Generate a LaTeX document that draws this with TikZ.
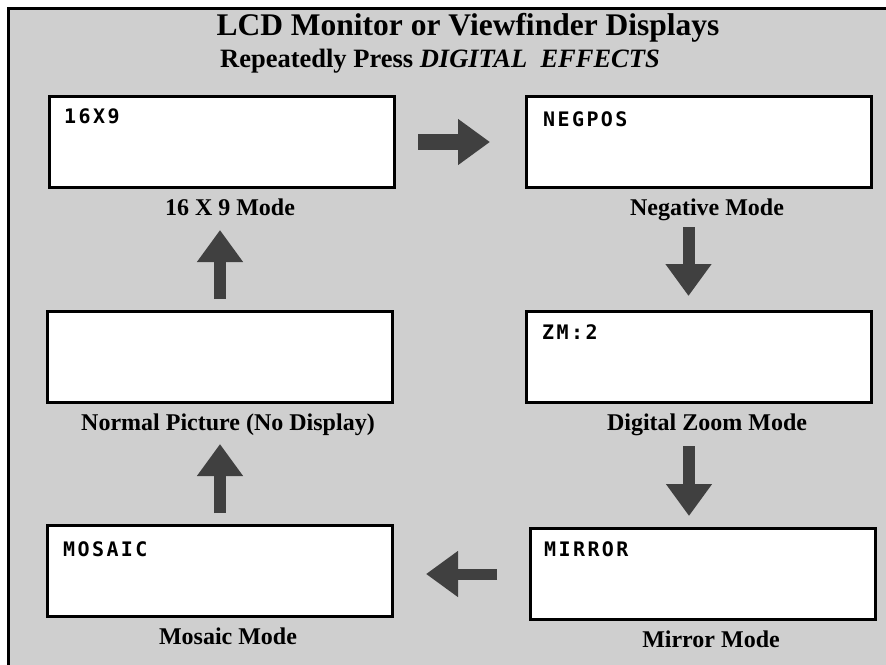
\documentclass[tikz,border=0pt]{standalone}
\usepackage{fontspec}
\setmainfont{Liberation Serif}
\newfontfamily\lcdfont[LetterSpace=12]{DejaVu Sans Mono}
\usepackage{xcolor}
\usepackage{tikz}
\usetikzlibrary{arrows.meta, positioning}
\definecolor{panelgray}{gray}{0.81}
\definecolor{arrowgray}{gray}{0.25}
\tikzstyle{lcdbox} = [rectangle, draw=black, line width=3pt, fill=white, minimum width=345pt, minimum height=91pt, inner sep=0pt]
\tikzstyle{lcdtext} = [anchor=north west, inner sep=0pt, font=\lcdfont\bfseries\fontsize{20}{20}\selectfont]
\tikzstyle{modelabel} = [inner sep=0pt, xshift=8pt, font=\bfseries\fontsize{24}{26}\selectfont]
\tikzstyle{bigarrow} = [draw=arrowgray, line width=12pt, -{Triangle[length=32pt, width=44pt]}]

\begin{document}
\begin{tikzpicture}[x=1pt, y=-1pt, node distance=10pt]
        \useasboundingbox (0,0) rectangle (886,664);
        \fill[white] (0,0) rectangle (886,664);
        \fill[panelgray] (8.5,8.5) rectangle (887,665);
        \draw[line width=3pt] (8.5,665) -- (8.5,8.5) -- (887,8.5);

        \node[anchor=base, inner sep=0pt, font=\bfseries\fontsize{31.5}{34}\selectfont] (title) at (468,35) {LCD Monitor or Viewfinder Displays};
        \node[anchor=base, inner sep=0pt, font=\bfseries\fontsize{26.5}{29}\selectfont] (subtitle) at (440,67) {Repeatedly Press \textit{DIGITAL\ \ EFFECTS}};

        \node [lcdbox] (wide) at (222,142) {};
        \node [lcdbox] (neg) at (699,142) {};
        \node [lcdbox] (normal) at (220,357) {};
        \node [lcdbox] (zoom) at (699,357) {};
        \node [lcdbox] (mosaic) at (220,571) {};
        \node [lcdbox] (mirror) at (703,574) {};

        \node [lcdtext] (widetext) at ([shift={(16,13)}]wide.north west) {16X9};
        \node [lcdtext] (negtext) at ([shift={(18,16)}]neg.north west) {NEGPOS};
        \node [lcdtext] (zoomtext) at ([shift={(17,14)}]zoom.north west) {ZM:2};
        \node [lcdtext] (mosaictext) at ([shift={(17,17)}]mosaic.north west) {MOSAIC};
        \node [lcdtext] (mirrortext) at ([shift={(15,14)}]mirror.north west) {MIRROR};

        \node [modelabel, below=of wide] (widelabel) {16 X 9 Mode};
        \node [modelabel, below=of neg] (neglabel) {Negative Mode};
        \node [modelabel, below=of normal] (normallabel) {Normal Picture (No Display)};
        \node [modelabel, below=of zoom] (zoomlabel) {Digital Zoom Mode};
        \node [modelabel, below=of mosaic] (mosaiclabel) {Mosaic Mode};
        \node [modelabel, below=of mirror] (mirrorlabel) {Mirror Mode};

        \draw [bigarrow, line width=16pt, shorten <=22pt, shorten >=35pt] (wide.east) -- (neg.west);
        \draw [bigarrow, shorten <=38pt, shorten >=14pt] ([xshift=-10.5pt]neg.south) -- ([xshift=-10.5pt]zoom.north);
        \draw [bigarrow, shorten <=42pt, shorten >=11pt] ([xshift=-10pt]zoom.south) -- ([xshift=-14pt]mirror.north);
        \draw [bigarrow, line width=11pt, shorten <=32pt, shorten >=32pt] (mirror.west) -- (mosaic.east |- mirror.west);
        \draw [bigarrow, shorten <=11pt, shorten >=40pt] (mosaic.north) -- (normal.south);
        \draw [bigarrow, shorten <=11pt, shorten >=41pt] (normal.north) -- (normal.north |- wide.south);
    \end{tikzpicture}
\end{document}
